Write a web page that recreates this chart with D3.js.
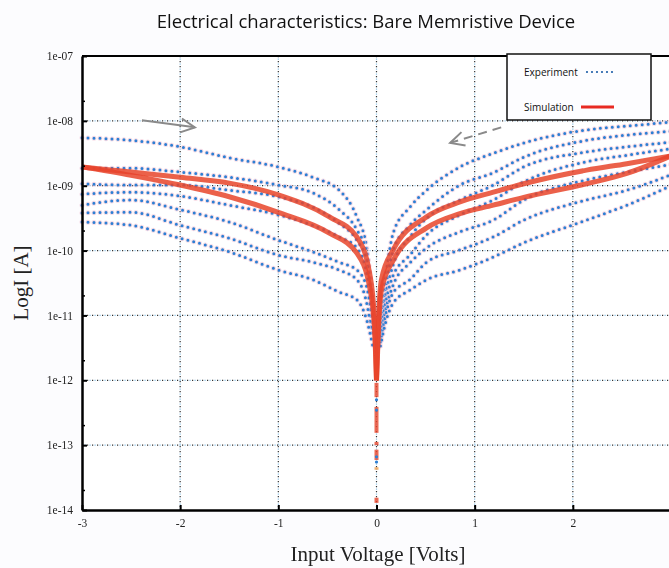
<!DOCTYPE html>
<html>
<head>
<meta charset="utf-8">
<script src="https://cdn.jsdelivr.net/npm/d3@7"></script>
<style>
  body { margin: 0; background: #fcfcfe; }
</style>
</head>
<body>
<div id="chart"></div>
<script>
// tick values and labels
const xTicks = [-3, -2, -1, 0, 1, 2, 3];
const xTickLabels = ["-3", "-2", "-1", "0", "1", "2", ""];
const yTicks = [1e-7, 1e-8, 1e-9, 1e-10, 1e-11, 1e-12, 1e-13, 1e-14];
const yTickLabels = ["1e-07", "1e-08", "1e-09", "1e-10", "1e-11", "1e-12", "1e-13", "1e-14"];
const yMinor = [2e-8, 2e-9, 2e-10, 2e-11, 2e-12, 2e-13, 2e-14];

// experiment: negative sweep (log10 of current)
const voltsLeft = [-3, -2.5, -2, -1.5, -1, -0.65, -0.38, -0.2, -0.1, -0.04];
const expLeft = [
    [-8.26, -8.30, -8.40, -8.57, -8.71, -8.87, -9.07, -9.48, -9.95, -10.76],
    [-8.73, -8.73, -8.79, -8.87, -8.99, -9.11, -9.37, -9.68, -10.04, -10.92],
    [-8.97, -8.99, -8.99, -9.07, -9.17, -9.33, -9.58, -9.84, -10.15, -11.04],
    [-9.13, -9.10, -9.16, -9.30, -9.45, -9.61, -9.79, -9.96, -10.35, -11.15],
    [-9.30, -9.22, -9.37, -9.56, -9.84, -10.02, -10.18, -10.30, -10.56, -11.26],
    [-9.42, -9.41, -9.61, -9.81, -10.07, -10.18, -10.30, -10.45, -10.81, -11.35],
    [-9.56, -9.61, -9.81, -10.02, -10.30, -10.45, -10.64, -10.76, -11.07, -11.46]
];

// experiment: positive sweep
const voltsRight = [0.04, 0.1, 0.17, 0.34, 0.51, 0.85, 1.19, 1.5, 2.14, 2.55, 3.0];
const expRight = [
    [-11.07, -10.33, -9.73, -9.33, -9.07, -8.71, -8.50, -8.34, -8.14, -8.08, -8.02],
    [-11.15, -10.53, -9.99, -9.61, -9.37, -8.99, -8.80, -8.56, -8.30, -8.22, -8.16],
    [-11.22, -10.64, -10.22, -9.79, -9.50, -9.22, -8.99, -8.71, -8.48, -8.40, -8.33],
    [-11.29, -10.76, -10.38, -10.07, -9.76, -9.45, -9.22, -8.94, -8.63, -8.53, -8.43],
    [-11.35, -10.87, -10.53, -10.19, -9.96, -9.71, -9.53, -9.22, -8.91, -8.79, -8.67],
    [-11.41, -10.95, -10.65, -10.45, -10.18, -9.99, -9.79, -9.53, -9.22, -9.07, -8.83],
    [-11.47, -11.07, -10.81, -10.61, -10.45, -10.30, -10.10, -9.88, -9.53, -9.30, -9.00]
];
// stray experiment points at 0 V
const expCenter = [-12.30, -12.46, -13.18, -13.26];

// simulation
const simVoltsLeft = [-3, -2.5, -2, -1.5, -1, -0.48, -0.2, -0.07, -0.02, 0];
const simLeftUpper = [-8.71, -8.79, -8.87, -8.96, -9.14, -9.48, -9.79, -10.35, -11.07, -12.0];
const simLeftLower = [-8.71, -8.84, -8.99, -9.17, -9.41, -9.73, -10.04, -10.56, -11.22, -12.0];
const simVoltsRight = [0, 0.02, 0.05, 0.17, 0.51, 0.85, 1.19, 1.5, 2.14, 2.55, 3.0];
const simRightUpper = [-12.0, -11.07, -10.45, -9.99, -9.48, -9.25, -9.10, -8.97, -8.76, -8.66, -8.54];
const simRightLower = [-12.0, -11.22, -10.61, -10.15, -9.65, -9.43, -9.30, -9.18, -8.97, -8.81, -8.54];
// broken tail of the simulation at 0 V (log10 from, to)
const simTail = [[-12.04, -12.26], [-12.41, -12.81], [-12.95, -13.00], [-13.07, -13.23], [-13.34, -13.38], [-13.81, -13.89]];

// annotation arrows [volts, log10 I]
const arrowSweepNeg = [[-2.39, -7.99], [-1.85, -8.10]];
const arrowSweepPos = [[1.27, -8.10], [0.75, -8.34]];

const W = 669, H = 568;
var margin = { top: 56, right: -2, bottom: 58, left: 82 };

const svg = d3.select("#chart").append("svg")
    .attr("width", W)
    .attr("height", H);

const x = d3.scaleLinear().domain([-3, 3]).range([margin.left, W - margin.right]);
const y = d3.scaleLog().domain([1e-14, 1e-7]).range([H - margin.bottom, margin.top]);
const yl = v => y(Math.pow(10, v));

// plot background
svg.append("rect")
    .attr("x", margin.left).attr("y", margin.top)
    .attr("width", W - margin.left).attr("height", H - margin.bottom - margin.top)
    .attr("fill", "#ffffff");

// grid lines, dotted
const grid = svg.append("g");
[["#8fc3e6", 2.5], ["#333", 0]].forEach(([col, off]) => {
    grid.selectAll(null)
        .data(xTicks.slice(1))
        .enter().append("line")
        .attr("x1", d => x(d)).attr("x2", d => x(d))
        .attr("y1", margin.top).attr("y2", H - margin.bottom)
        .attr("stroke", col).attr("stroke-width", 1.2)
        .attr("stroke-dasharray", "1.2,3.8").attr("stroke-dashoffset", off);
    grid.selectAll(null)
        .data(yTicks.slice(1, -1))
        .enter().append("line")
        .attr("x1", margin.left).attr("x2", W)
        .attr("y1", d => y(d)).attr("y2", d => y(d))
        .attr("stroke", col).attr("stroke-width", 1.2)
        .attr("stroke-dasharray", "1.2,3.8").attr("stroke-dashoffset", off);
});

// defs
const defs = svg.append("defs");
defs.append("filter").attr("id", "soft")
    .append("feGaussianBlur").attr("stdDeviation", 0.7);
defs.append("marker")
    .attr("id", "head")
    .attr("markerUnits", "userSpaceOnUse")
    .attr("viewBox", "0 0 18 18")
    .attr("markerWidth", 18).attr("markerHeight", 18)
    .attr("refX", 16).attr("refY", 9)
    .attr("orient", "auto")
    .append("path")
    .attr("d", "M2,2 L16,9 L2,16")
    .attr("fill", "none")
    .attr("stroke", "#8a8a8a")
    .attr("stroke-width", 2);

const plot = svg.append("g");

// experiment curves
const line = d3.line()
    .x(d => x(d[0]))
    .y(d => yl(d[1]))
    .curve(d3.curveMonotoneX);

function drawExp(volts, rows) {
    rows.forEach(r => {
        const pts = volts.map((v, i) => [v, r[i]]);
        plot.append("path")
            .datum(pts)
            .attr("fill", "none")
            .attr("stroke", "#f3c6d6")
            .attr("stroke-width", 5)
            .attr("stroke-linecap", "round")
            .attr("stroke-dasharray", "0,6")
            .attr("opacity", 0.6)
            .attr("d", line);
        plot.append("path")
            .datum(pts)
            .attr("fill", "none")
            .attr("stroke", "#2c7fd4")
            .attr("stroke-width", 3)
            .attr("stroke-linecap", "round")
            .attr("stroke-dasharray", "0,6")
            .attr("d", line);
    });
}
drawExp(voltsLeft, expLeft);
drawExp(voltsRight, expRight);

// simulation curves
const simLayer = plot.append("g").attr("filter", "url(#soft)");
[[simVoltsLeft, simLeftUpper], [simVoltsLeft, simLeftLower],
 [simVoltsRight, simRightUpper], [simVoltsRight, simRightLower]].forEach(([vs, ls]) => {
    const pts = vs.map((v, i) => [v, ls[i]]);
    simLayer.append("path")
        .datum(pts)
        .attr("fill", "none")
        .attr("stroke", "#e8442c")
        .attr("stroke-width", 5)
        .attr("opacity", 0.85)
        .attr("d", line);
});
simLayer.selectAll(null)
    .data(simTail)
    .enter().append("line")
    .attr("x1", x(0)).attr("x2", x(0))
    .attr("y1", d => yl(d[0])).attr("y2", d => yl(d[1]))
    .attr("stroke", (d, i) => i === 4 ? "#f0a050" : "#e8442c")
    .attr("stroke-width", 4)
    .attr("opacity", 0.8);

plot.selectAll(null)
    .data(expCenter)
    .enter().append("circle")
    .attr("cx", x(0)).attr("cy", d => yl(d))
    .attr("r", 1.6)
    .attr("fill", "#2c7fd4");

// axes
const yAxis = svg.append("g")
    .attr("transform", `translate(${margin.left},0)`)
    .call(d3.axisLeft(y).tickValues(yTicks)
        .tickFormat((d, i) => yTickLabels[i])
        .tickSizeInner(-5).tickSizeOuter(0).tickPadding(9));
yAxis.selectAll(".tick line").attr("stroke-width", 2);
yAxis.select(".domain").attr("stroke-width", 2.5);

svg.append("g")
    .selectAll(null)
    .data(yMinor)
    .enter().append("line")
    .attr("x1", margin.left).attr("x2", margin.left + 3)
    .attr("y1", d => y(d)).attr("y2", d => y(d))
    .attr("stroke", "#000").attr("stroke-width", 1.5);

const xAxis = svg.append("g")
    .attr("transform", `translate(0,${H - margin.bottom})`)
    .call(d3.axisBottom(x).tickValues(xTicks)
        .tickFormat((d, i) => xTickLabels[i])
        .tickSizeInner(-5).tickSizeOuter(0).tickPadding(9));
xAxis.selectAll(".tick line").attr("stroke-width", 2);
xAxis.select(".domain").attr("stroke-width", 2.5);

svg.selectAll(".tick text")
    .style("font-family", "'Liberation Serif', serif")
    .style("font-size", "11.5px")
    .attr("fill", "#222");

// top frame
svg.append("line")
    .attr("x1", margin.left).attr("x2", W)
    .attr("y1", margin.top).attr("y2", margin.top)
    .attr("stroke", "#000").attr("stroke-width", 2);

// arrows
svg.append("path")
    .datum(arrowSweepNeg)
    .attr("fill", "none")
    .attr("stroke", "#8a8a8a").attr("stroke-width", 2)
    .attr("marker-end", "url(#head)")
    .attr("d", d3.line().x(d => x(d[0])).y(d => yl(d[1])));
svg.append("path")
    .datum(arrowSweepPos)
    .attr("fill", "none")
    .attr("stroke", "#8a8a8a").attr("stroke-width", 2)
    .attr("stroke-dasharray", "9,6")
    .attr("marker-end", "url(#head)")
    .attr("d", d3.line().x(d => x(d[0])).y(d => yl(d[1])));

// legend
const lg = svg.append("g").attr("transform", "translate(507,54)");
lg.append("rect")
    .attr("width", 144).attr("height", 66)
    .attr("fill", "#fdfdff")
    .attr("stroke", "#111").attr("stroke-width", 1.5);
lg.append("text").attr("x", 17).attr("y", 22).text("Experiment");
lg.append("line")
    .attr("x1", 80).attr("x2", 108).attr("y1", 18).attr("y2", 18)
    .attr("stroke", "#1f5fa8").attr("stroke-width", 2.2)
    .attr("stroke-linecap", "round").attr("stroke-dasharray", "0,5");
lg.append("text").attr("x", 17).attr("y", 57).text("Simulation");
lg.append("line")
    .attr("x1", 74).attr("x2", 107).attr("y1", 53).attr("y2", 53)
    .attr("stroke", "#e82a22").attr("stroke-width", 3);
lg.selectAll("text")
    .style("font-family", "'Open Sans', sans-serif")
    .style("font-size", "10px")
    .attr("fill", "#111");

// titles
svg.append("text")
    .attr("x", 366).attr("y", 28)
    .attr("text-anchor", "middle")
    .style("font-family", "'Open Sans', sans-serif")
    .style("font-size", "18.5px")
    .attr("fill", "#111")
    .text("Electrical characteristics: Bare Memristive Device");

svg.append("text")
    .attr("x", 378).attr("y", 561)
    .attr("text-anchor", "middle")
    .style("font-family", "'Liberation Serif', serif")
    .style("font-size", "21px")
    .attr("fill", "#222")
    .text("Input Voltage [Volts]");

svg.append("text")
    .attr("transform", "translate(28,283) rotate(-90)")
    .attr("text-anchor", "middle")
    .style("font-family", "'Liberation Serif', serif")
    .style("font-size", "21px")
    .attr("fill", "#222")
    .text("LogI [A]");
</script>
</body>
</html>
